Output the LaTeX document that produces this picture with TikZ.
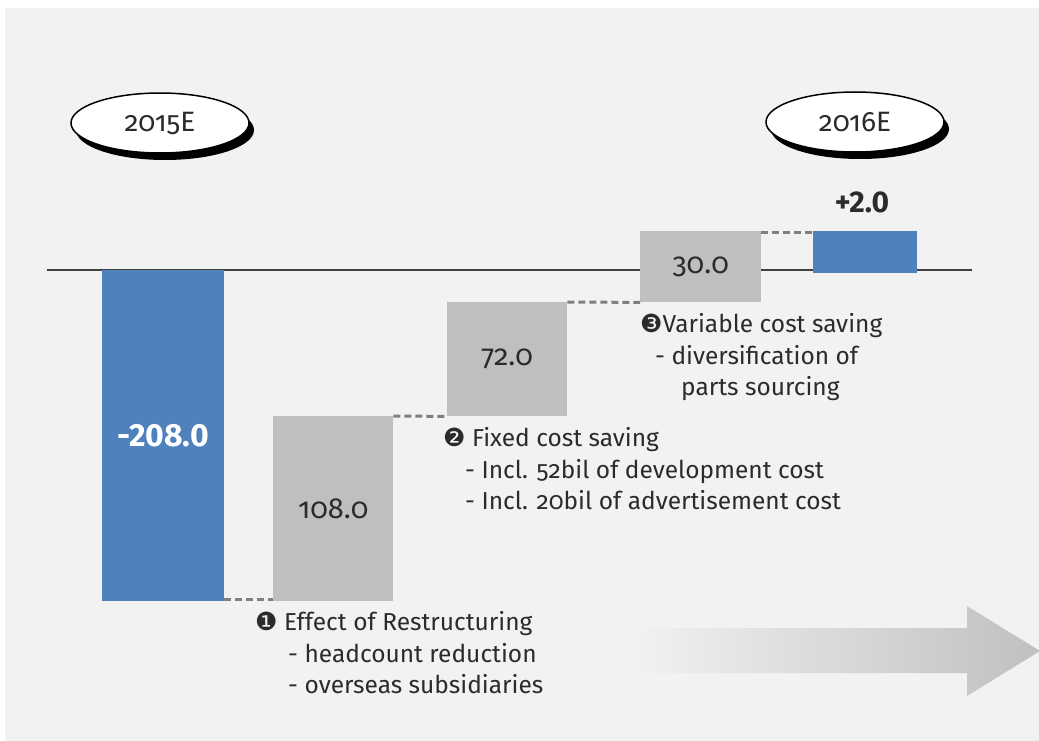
\documentclass[tikz,border=0pt]{standalone}
\usepackage{fontspec}
\setmainfont{Fira Sans}[Numbers=OldStyle]
\newfontfamily\valfont{Fira Sans}[Numbers=Lining]
\newfontfamily\symfont{DejaVu Sans}
\usetikzlibrary{shapes.geometric}
\usetikzlibrary{shadows}
\definecolor{panel}{HTML}{F2F2F2}
\definecolor{barblue}{HTML}{4F81BD}
\definecolor{bargray}{HTML}{BFBFBF}
\definecolor{dashgray}{HTML}{7F7F7F}
\definecolor{axisgray}{HTML}{404040}
\definecolor{arrowgray}{HTML}{C0C0C0}
\definecolor{txt}{HTML}{2B2B2B}
\tikzset{
    barb/.style = {rectangle, anchor=north west, inner sep=0, fill=barblue, text=white, font=\valfont\bfseries\fontsize{32}{32}\selectfont},
    barg/.style = {rectangle, anchor=north west, inner sep=0, fill=bargray, text=txt, font=\fontsize{29}{29}\selectfont},
    yearnode/.style = {ellipse, draw=black, line width=1.5pt, fill=white, minimum width=178pt, minimum height=60pt, text=txt, font=\fontsize{28}{28}\selectfont,
        drop shadow={shadow xshift=5pt, shadow yshift=-7pt, fill=black, opacity=1}},
    linkd/.style = {-, line width=3pt, dashgray, dash pattern=on 7pt off 4pt},
    axisl/.style = {-, line width=2pt, axisgray},
    note/.style = {anchor=base west, inner sep=0, text=txt, font=\fontsize{24.5}{24.5}\selectfont},
}
\newcommand{\cnum}[1]{{\symfont\fontsize{25}{25}\selectfont #1}}

\begin{document}
\begin{tikzpicture}[x=1pt,y=-1pt]
\useasboundingbox (0,0) rectangle (1039,741);
\fill[panel] (5,8) rectangle (1039,741);

% direction arrow
\shade[left color=panel, right color=arrowgray] (630,628) -- (967,628) -- (967,606) -- (1040,651)
    -- (967,696) -- (967,673) -- (630,673) -- cycle;

% zero line
\coordinate (axl) at (47,270);
\coordinate (axr) at (972,270);
\draw[axisl] (axl) -- (axr);

% years
\node[yearnode] at (160,123) (y1) {2015E};
\node[yearnode] at (855,122) (y2) {2016E};

% bars
\node[barb, minimum width=122pt, minimum height=331pt] at (102,270) (b1) {-208.0};
\node[barg, minimum width=120pt, minimum height=185pt] at (273,416) (b2) {108.0};
\node[barg, minimum width=120pt, minimum height=114pt] at (447,302) (b3) {72.0};
\node[barg, minimum width=121pt, minimum height=71pt] at (640,231) (b4) {30.0};
\node[barb, minimum width=104pt, minimum height=42pt] at (813,231) (b5) {};
\node[text=txt, font=\valfont\bfseries\fontsize{30}{30}\selectfont] at (862,202) (v5) {+2.0};

\draw[linkd] ([yshift=1.5pt]b1.south east) -- ([yshift=1.5pt]b2.south west);
\draw[linkd] (b2.north east) -- (b3.south west);
\draw[linkd] (b3.north east) -- (b4.south west);
\draw[linkd] ([yshift=-1.5pt]b4.north east) -- ([yshift=-1.5pt]b5.north west);

% notes
\node[note] at (255,630) (n1a) {\cnum{❶} Effect of Restructuring};
\node[note] at (288,662) (n1b) {- headcount reduction};
\node[note] at (288,693) (n1c) {- overseas subsidiaries};

\node[note] at (443,446) (n2a) {\cnum{❷} Fixed cost saving};
\node[note] at (465,478) (n2b) {- Incl. 52bil of development cost};
\node[note] at (465,509) (n2c) {- Incl. 20bil of advertisement cost};

\node[note] at (640,332) (n3a) {\cnum{❸}Variable cost saving};
\node[note] at (655,364) (n3b) {- diversification of};
\node[note] at (681,395) (n3c) {parts sourcing};

\end{tikzpicture}
\end{document}
